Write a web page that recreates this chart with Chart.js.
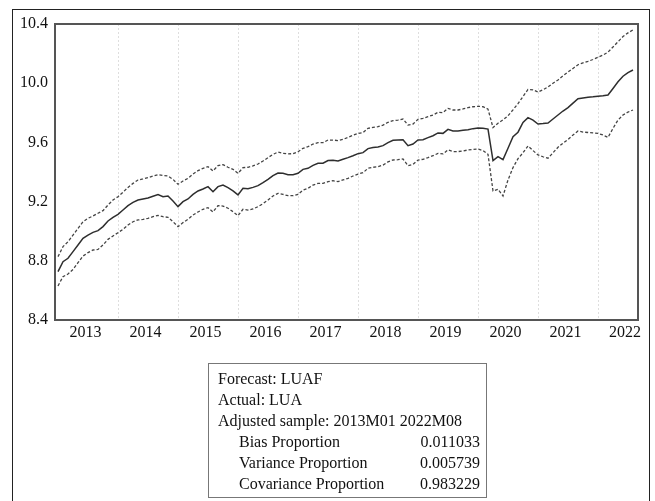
<!DOCTYPE html>
<html>
<head>
<meta charset="utf-8">
<script src="https://cdn.jsdelivr.net/npm/chart.js@4"></script>
<style>
  html, body { margin: 0; padding: 0; background: #fff; }
  #wrap { position: relative; width: 655px; height: 501px; overflow: hidden; }
  #chart { position: absolute; left: 0; top: 0; }
  #frame { position: absolute; left: 12px; top: 9px; width: 638px; height: 520px; border: 1px solid #222; box-sizing: border-box; }
  #stats {
    position: absolute; left: 208px; top: 363px; width: 279px; height: 135px;
    border: 1px solid #777; box-sizing: border-box; padding: 4px 6px 0 9px;
    font-family: "Liberation Serif", "Times New Roman", serif; font-size: 16px; line-height: 21px; color: #111;
  }
  #stats .row { display: flex; justify-content: space-between; padding-left: 21px; }
</style>
</head>
<body>
<div id="wrap">
  <div id="frame"></div>
  <canvas id="chart" width="655" height="501"></canvas>
  <div id="stats">
    <div>Forecast: LUAF</div>
    <div>Actual: LUA</div>
    <div>Adjusted sample: 2013M01 2022M08</div>
    <div class="row"><span>Bias Proportion</span><span>0.011033</span></div>
    <div class="row"><span>Variance Proportion</span><span>0.005739</span></div>
    <div class="row"><span>Covariance Proportion</span><span>0.983229</span></div>
  </div>
</div>
<script>
// meses 2013M01 .. 2022M08
const months = [];
for (let y = 2013; y <= 2022; y++) {
    for (let m = 1; m <= 12; m++) {
        if (y === 2022 && m > 8) break;
        months.push(y + 'M' + String(m).padStart(2, '0'));
    }
}

const years = ['2013', '2014', '2015', '2016', '2017', '2018', '2019', '2020', '2021', '2022'];
const yTicks = [8.4, 8.8, 9.2, 9.6, 10.0, 10.4];

// pronóstico LUAF
const forecast = [
    8.727, 8.794, 8.817, 8.862, 8.907, 8.952, 8.974, 8.992, 9.004, 9.031, 9.069, 9.094,
    9.114, 9.143, 9.173, 9.195, 9.211, 9.218, 9.224, 9.236, 9.247, 9.233, 9.238, 9.204,
    9.166, 9.200, 9.218, 9.249, 9.272, 9.285, 9.301, 9.267, 9.301, 9.312, 9.294, 9.272,
    9.245, 9.290, 9.287, 9.296, 9.308, 9.328, 9.350, 9.375, 9.393, 9.391, 9.382, 9.382,
    9.391, 9.418, 9.425, 9.445, 9.459, 9.459, 9.477, 9.479, 9.475, 9.486, 9.497, 9.510,
    9.524, 9.531, 9.558, 9.565, 9.569, 9.578, 9.598, 9.614, 9.616, 9.618, 9.578, 9.589,
    9.616, 9.618, 9.632, 9.645, 9.664, 9.661, 9.688, 9.677, 9.677, 9.682, 9.686, 9.693,
    9.697, 9.695, 9.690, 9.477, 9.504, 9.484, 9.560, 9.638, 9.669, 9.735, 9.767, 9.750,
    9.724, 9.727, 9.731, 9.758, 9.785, 9.812, 9.835, 9.865, 9.895, 9.900, 9.905, 9.908,
    9.912, 9.915, 9.920, 9.964, 10.010, 10.047, 10.072, 10.089
];

// banda superior (+2 S.E.)
const upper = [
    8.828, 8.896, 8.929, 8.974, 9.019, 9.064, 9.087, 9.103, 9.121, 9.139, 9.177, 9.211,
    9.233, 9.263, 9.296, 9.323, 9.346, 9.353, 9.362, 9.373, 9.382, 9.377, 9.373, 9.350,
    9.317, 9.339, 9.357, 9.386, 9.409, 9.425, 9.436, 9.407, 9.443, 9.450, 9.432, 9.418,
    9.391, 9.429, 9.432, 9.441, 9.454, 9.474, 9.497, 9.519, 9.535, 9.526, 9.522, 9.524,
    9.537, 9.560, 9.571, 9.589, 9.598, 9.598, 9.616, 9.616, 9.612, 9.620, 9.634, 9.648,
    9.661, 9.666, 9.695, 9.701, 9.706, 9.717, 9.736, 9.747, 9.751, 9.758, 9.717, 9.724,
    9.756, 9.763, 9.774, 9.785, 9.803, 9.801, 9.830, 9.819, 9.819, 9.826, 9.835, 9.841,
    9.844, 9.841, 9.825, 9.700, 9.730, 9.752, 9.780, 9.820, 9.862, 9.910, 9.958, 9.955,
    9.940, 9.955, 9.975, 10.000, 10.022, 10.050, 10.075, 10.100, 10.125, 10.138, 10.148, 10.160,
    10.175, 10.190, 10.210, 10.245, 10.280, 10.315, 10.340, 10.360
];

// banda inferior (-2 S.E.)
const lower = [
    8.630, 8.693, 8.711, 8.742, 8.787, 8.832, 8.855, 8.873, 8.877, 8.907, 8.945, 8.968,
    8.990, 9.013, 9.042, 9.064, 9.076, 9.080, 9.087, 9.098, 9.107, 9.098, 9.094, 9.064,
    9.031, 9.058, 9.080, 9.109, 9.130, 9.148, 9.159, 9.130, 9.173, 9.170, 9.155, 9.132,
    9.105, 9.148, 9.143, 9.150, 9.166, 9.186, 9.211, 9.238, 9.256, 9.249, 9.240, 9.240,
    9.249, 9.278, 9.290, 9.312, 9.323, 9.323, 9.335, 9.341, 9.335, 9.346, 9.357, 9.373,
    9.386, 9.395, 9.425, 9.432, 9.436, 9.447, 9.468, 9.481, 9.483, 9.488, 9.443, 9.452,
    9.481, 9.486, 9.497, 9.510, 9.526, 9.522, 9.549, 9.538, 9.538, 9.542, 9.549, 9.553,
    9.555, 9.545, 9.520, 9.272, 9.283, 9.238, 9.346, 9.430, 9.490, 9.530, 9.576, 9.545,
    9.515, 9.503, 9.493, 9.530, 9.567, 9.595, 9.620, 9.650, 9.677, 9.670, 9.667, 9.664,
    9.661, 9.650, 9.634, 9.695, 9.751, 9.785, 9.805, 9.819
];

// posiciones de rejilla (inicio de cada año) y de etiquetas (centro del año)
const gridPos = years.slice(1).map((_, i) => (i + 1) * 12);
const labelPos = years.map((_, i) => i * 12 + 5.5);
labelPos[labelPos.length - 1] = 113.4;

const toPoints = (arr) => arr.map((v, i) => ({ x: i, y: v }));

// marco del área de trazado
const plotFrame = {
    id: 'plotFrame',
    afterDraw(chart) {
        const { ctx, chartArea: a } = chart;
        ctx.save();
        ctx.strokeStyle = '#555';
        ctx.lineWidth = 2;
        ctx.strokeRect(a.left, a.top, a.right - a.left, a.bottom - a.top);
        ctx.restore();
    }
};

const font = { family: '"Liberation Serif", "Times New Roman", serif', size: 16 };

new Chart(document.getElementById('chart'), {
    type: 'line',
    data: {
        datasets: [
            {
                label: 'LUAF',
                data: toPoints(forecast),
                borderColor: '#2e2e2e',
                borderWidth: 1.5,
                pointRadius: 0,
                tension: 0,
            },
            {
                label: '+2 S.E.',
                data: toPoints(upper),
                borderColor: '#444',
                borderWidth: 1.3,
                borderDash: [3, 2],
                pointRadius: 0,
                tension: 0,
            },
            {
                label: '-2 S.E.',
                data: toPoints(lower),
                borderColor: '#444',
                borderWidth: 1.3,
                borderDash: [3, 2],
                pointRadius: 0,
                tension: 0,
            },
        ],
    },
    options: {
        responsive: false,
        animation: false,
        layout: { padding: { left: 0, top: 24, right: 17, bottom: 151 } },
        plugins: {
            legend: { display: false },
            tooltip: { enabled: false },
        },
        scales: {
            x: {
                type: 'linear',
                min: -0.6,
                max: 116,
                afterFit: (scale) => { scale.height = 30; },
                afterBuildTicks: (scale) => {
                    scale.ticks = gridPos.concat(labelPos).map((v) => ({ value: v }));
                },
                border: { display: false, dash: [2, 2] },
                grid: {
                    drawTicks: false,
                    lineWidth: 1,
                    color: (ctx) => (ctx.tick && gridPos.includes(ctx.tick.value) ? '#dedede' : 'rgba(0,0,0,0)'),
                },
                ticks: {
                    autoSkip: false,
                    maxRotation: 0,
                    padding: 3,
                    color: '#111',
                    font,
                    callback: (v) => {
                        const k = labelPos.indexOf(v);
                        return k >= 0 ? years[k] : '';
                    },
                },
            },
            y: {
                min: 8.4,
                max: 10.4,
                afterFit: (scale) => { scale.width = 55; },
                afterBuildTicks: (scale) => {
                    scale.ticks = yTicks.map((v) => ({ value: v }));
                },
                border: { display: false },
                grid: { display: false, drawTicks: false },
                ticks: {
                    padding: 7,
                    color: '#111',
                    font,
                    callback: (v) => v.toFixed(1),
                },
            },
        },
    },
    plugins: [plotFrame],
});
</script>
</body>
</html>
